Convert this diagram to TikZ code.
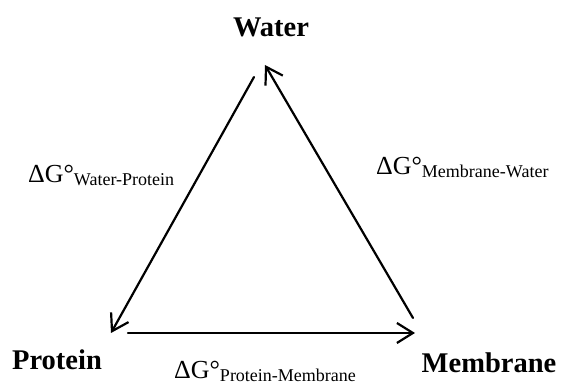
\documentclass[tikz,border=0pt]{standalone}
\usepackage{fontspec}
\setmainfont{Liberation Serif}
\usetikzlibrary{arrows.meta}
\newcommand{\dgo}[1]{{\fontsize{26}{26}\selectfont ΔG°}\raisebox{-3pt}{\fontsize{18}{18}\selectfont #1}}
\begin{document}
\begin{tikzpicture}[>={Straight Barb[length=16pt,width=20pt]},line width=2.2pt,line join=round,line cap=round,x=1pt,y=-1pt]
\useasboundingbox (0,0) rectangle (566,387);
\path (254,77) coordinate (WP) (111,333) coordinate (PW)
      (128,333) coordinate (PM) (415,333) coordinate (MP)
      (413,318) coordinate (MW) (265,65) coordinate (WM);
\draw[->] (WP)--(PW);
\draw[->] (PM)--(MP);
\draw[->] (MW)--(WM);
\foreach \n/\t/\x/\y in {water/Water/271/37,protein/Protein/57/370,membrane/Membrane/489/373}
  {\node[font=\fontsize{28.5}{29}\selectfont\bfseries,anchor=base,inner sep=0pt] (\n) at (\x,\y) {\t};}
\node[anchor=base west,inner sep=0pt] (wp) at (27,183) {\dgo{Water-Protein}}; % left side
\node[anchor=base west,inner sep=0pt] (mw) at (375,175) {\dgo{Membrane-Water}};
\node[anchor=base west,inner sep=0pt] (pm) at (173,379) {\dgo{Protein-Membrane}};
\end{tikzpicture}
\end{document}
